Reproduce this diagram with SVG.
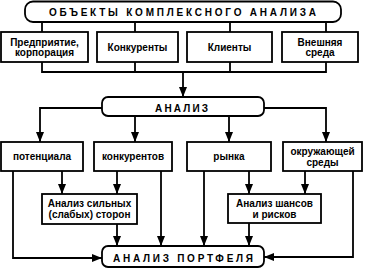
<svg xmlns="http://www.w3.org/2000/svg" width="366" height="269" viewBox="0 0 366 269">
<style>
.b{fill:#fff;stroke:#000;stroke-width:1.8}
.t{font-family:"Liberation Sans",Arial,sans-serif;font-weight:bold;font-size:10px;fill:#000;text-anchor:middle}
.h{font-family:"Liberation Sans",Arial,sans-serif;font-weight:bold;font-size:10px;fill:#000}
.c{fill:none;stroke:#000;stroke-width:1.8}
.a{marker-end:url(#ar)}
</style>
<defs>
<marker id="ar" markerUnits="userSpaceOnUse" markerWidth="10" markerHeight="8" refX="10" refY="4" orient="auto">
<path d="M0,0 L10,4 L0,8 z" fill="#000"/>
</marker>
</defs>
<g id="connectors">
<path class="c" d="M42,22V32M135,22V32M230,22V32M326,22V32"/>
<path class="c" d="M42,62V72H326V62M135,62V72M230,62V72"/>
<path class="c a" d="M183,72V97"/>
<path class="c a" d="M102,108H40V142"/>
<path class="c a" d="M264,108H326V142"/>
<path class="c a" d="M135,116V142"/>
<path class="c a" d="M229,116V142"/>
<path class="c a" d="M13,171V258H102"/>
<path class="c a" d="M62,171V194"/>
<path class="c a" d="M117,171V194"/>
<path class="c a" d="M161,171V246"/>
<path class="c a" d="M204,171V246"/>
<path class="c a" d="M249,171V194"/>
<path class="c a" d="M305,171V194"/>
<path class="c a" d="M353,171V257H264"/>
<path class="c a" d="M117,224V246"/>
<path class="c a" d="M249,223V246"/>
</g>
<g id="objects">
<rect class="b" x="25" y="1.5" width="316" height="20.5" rx="8"/>
<text class="h" x="49" y="15.8" textLength="267" lengthAdjust="spacing">ОБЪЕКТЫ КОМПЛЕКСНОГО АНАЛИЗА</text>
</g>
<g id="enterprise">
<rect class="b" x="1" y="32" width="87" height="30"/>
<text class="t" x="44.5" y="45.5">Предприятие,</text>
<text class="t" x="44.5" y="55.5">корпорация</text>
</g>
<g id="competitors">
<rect class="b" x="97" y="32" width="81" height="30"/>
<text class="t" x="137.5" y="50.5">Конкуренты</text>
</g>
<g id="clients">
<rect class="b" x="187" y="32" width="85" height="30"/>
<text class="t" x="229.5" y="50.5">Клиенты</text>
</g>
<g id="environment">
<rect class="b" x="282" y="32" width="76" height="30"/>
<text class="t" x="320" y="45.5">Внешняя</text>
<text class="t" x="320" y="55.5">среда</text>
</g>
<g id="analysis">
<rect class="b" x="102" y="97" width="162" height="19" rx="6"/>
<text class="h" x="155" y="111.8" textLength="53" lengthAdjust="spacing">АНАЛИЗ</text>
</g>
<g id="potential">
<rect class="b" x="1" y="142" width="82" height="29"/>
<text class="t" x="42" y="159.5">потенциала</text>
</g>
<g id="competitors2">
<rect class="b" x="94" y="142" width="78" height="29"/>
<text class="t" x="133" y="159.5">конкурентов</text>
</g>
<g id="market">
<rect class="b" x="187" y="142" width="84" height="29"/>
<text class="t" x="229" y="159.5">рынка</text>
</g>
<g id="surroundings">
<rect class="b" x="283" y="142" width="79" height="29"/>
<text class="t" x="322.5" y="155">окружающей</text>
<text class="t" x="322.5" y="166">среды</text>
</g>
<g id="swot">
<rect class="b" x="42" y="194" width="95" height="30"/>
<text class="t" x="89.5" y="207">Анализ сильных</text>
<text class="t" x="89.5" y="218">(слабых) сторон</text>
</g>
<g id="risks">
<rect class="b" x="228" y="194" width="93" height="29"/>
<text class="t" x="274.5" y="206.5">Анализ шансов</text>
<text class="t" x="274.5" y="217.5">и рисков</text>
</g>
<g id="portfolio">
<rect class="b" x="102" y="246" width="162" height="21" rx="6"/>
<text class="h" x="113" y="261.8" textLength="140" lengthAdjust="spacing">АНАЛИЗ ПОРТФЕЛЯ</text>
</g>
</svg>
